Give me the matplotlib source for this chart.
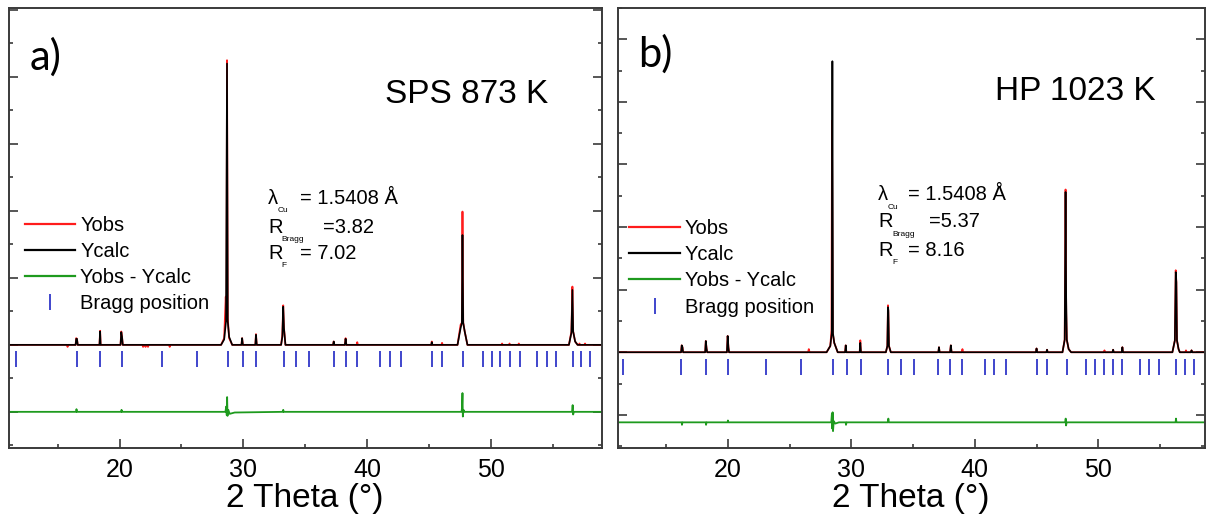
import matplotlib
matplotlib.use("Agg")
import matplotlib.pyplot as plt
from matplotlib.ticker import MultipleLocator

plt.rcParams["font.family"] = ["Liberation Sans", "DejaVu Sans"]

# ---- data (2theta in deg, intensity in major-tick units) ----
# panel a) SPS 873 K
tth_calc_a = [11.07, 16.45, 16.50, 16.56, 16.62, 18.38, 18.43, 18.47, 20.08, 20.14, 20.20, 20.26,
              28.20, 28.45, 28.60, 28.68, 28.74, 28.85, 29.10, 29.85, 29.90, 29.96, 30.97, 31.02, 31.08,
              33.05, 33.15, 33.22, 33.28, 33.40, 37.25, 37.30, 37.35, 38.20, 38.26, 38.32,
              45.18, 45.22, 45.27, 47.30, 47.55, 47.65, 47.70, 47.76, 47.88, 48.10,
              56.30, 56.50, 56.58, 56.64, 56.80, 57.00, 58.93]
ycalc_a = [0, 0, 0.09, 0.09, 0, 0, 0.20, 0, 0, 0.19, 0.12, 0,
           0, 0.08, 0.35, 4.20, 0.35, 0.12, 0, 0, 0.10, 0, 0, 0.15, 0,
           0, 0.12, 0.57, 0.25, 0, 0, 0.05, 0, 0, 0.09, 0,
           0, 0.04, 0, 0, 0.25, 0.33, 1.64, 0.33, 0.20, 0,
           0, 0.18, 0.82, 0.20, 0.05, 0, 0]
tth_obs_a = [11.07, 15.75, 15.80, 15.85, 16.45, 16.50, 16.56, 16.62, 18.38, 18.43, 18.47,
             20.08, 20.14, 20.20, 20.26, 21.85, 21.90, 22.00, 22.10, 22.20, 22.30, 22.35,
             24.00, 24.05, 24.10, 28.20, 28.45, 28.58, 28.64, 28.68, 28.74, 28.85, 29.10,
             29.85, 29.90, 29.96, 30.97, 31.02, 31.08, 33.05, 33.15, 33.22, 33.28, 33.40,
             37.25, 37.30, 37.35, 38.20, 38.26, 38.32, 39.15, 39.20, 39.25, 45.18, 45.22, 45.27,
             46.00, 46.05, 46.10, 47.30, 47.55, 47.65, 47.70, 47.76, 47.88, 48.10,
             50.85, 50.90, 50.95, 51.45, 51.50, 51.55, 52.20, 52.25, 52.30,
             56.30, 56.50, 56.58, 56.64, 56.80, 57.00, 57.10, 57.15, 57.20, 57.55, 57.60, 57.65, 58.93]
yobs_a = [0, 0, -0.03, 0, 0, 0.10, 0.09, 0, 0, 0.21, 0,
          0, 0.20, 0.12, 0, 0, -0.03, 0, -0.03, 0, -0.03, 0,
          0, -0.03, 0, 0, 0.10, 0.72, 0.35, 4.25, 0.40, 0.10, 0,
          0, 0.10, 0, 0, 0.16, 0, 0, 0.15, 0.59, 0.25, 0,
          0, 0.05, 0, 0, 0.10, 0, 0, 0.04, 0, 0, 0.05, 0,
          0, 0.03, 0, 0, 0.30, 0.33, 1.99, 0.33, 0.20, 0,
          0, 0.02, 0, 0, 0.02, 0, 0, 0.02, 0,
          0, 0.20, 0.87, 0.20, 0.05, 0, 0, 0.02, 0, 0, 0.02, 0, 0]
tth_diff_a = [11.07, 16.50, 16.52, 16.56, 20.14, 20.16, 20.20, 28.55, 28.62, 28.66, 28.69, 28.72,
              28.78, 28.90, 29.30, 33.20, 33.22, 33.26, 47.62, 47.66, 47.70, 47.73, 47.78, 47.85,
              56.55, 56.60, 56.64, 56.70, 58.93]
ydiff_a = [-1.0, -1.0, -0.96, -1.0, -1.0, -0.97, -1.0, -1.0, -0.92, -1.05, -0.78, -1.06,
           -0.97, -1.03, -1.01, -1.0, -0.97, -1.0, -1.0, -0.95, -0.72, -1.07, -0.97, -1.0,
           -1.0, -0.90, -1.04, -1.0, -1.0]
bragg_a = [11.65, 16.56, 18.45, 20.18, 23.39, 26.24, 28.74, 29.98, 31.06, 33.25, 34.24, 35.32,
           37.30, 38.26, 39.19, 41.04, 41.82, 42.75, 45.22, 46.05, 47.78, 49.36, 50.07, 50.75,
           51.53, 52.36, 53.75, 54.49, 55.23, 56.59, 57.30, 57.99]

# panel b) HP 1023 K
tth_calc_b = [11.07, 16.22, 16.27, 16.33, 16.38, 18.17, 18.22, 18.28, 18.33, 19.93, 19.99, 20.05, 20.10,
              28.00, 28.30, 28.42, 28.47, 28.52, 28.62, 28.90, 29.50, 29.55, 29.60, 30.68, 30.73, 30.78,
              32.80, 32.92, 32.97, 33.00, 33.05, 33.20, 37.05, 37.10, 37.15, 38.00, 38.06, 38.12,
              44.95, 45.00, 45.05, 45.80, 45.85, 45.90, 47.10, 47.28, 47.35, 47.40, 47.45, 47.60, 47.80,
              51.15, 51.20, 51.25, 51.90, 51.95, 52.00, 56.00, 56.20, 56.27, 56.32, 56.37, 56.50, 56.60,
              57.50, 57.55, 57.60, 58.64]
ycalc_b = [0, 0, 0.11, 0.08, 0, 0, 0.18, 0.06, 0, 0, 0.26, 0.08, 0,
           0, 0.10, 0.30, 4.65, 0.30, 0.15, 0, 0, 0.11, 0, 0, 0.15, 0,
           0, 0.10, 0.72, 0.67, 0.10, 0, 0, 0.08, 0, 0, 0.11, 0,
           0, 0.06, 0, 0, 0.04, 0, 0, 0.20, 2.56, 0.86, 0.20, 0.05, 0,
           0, 0.04, 0, 0, 0.08, 0, 0, 0.19, 1.28, 1.12, 0.19, 0.05, 0,
           0, 0.03, 0, 0]
tth_obs_b = [11.07, 16.22, 16.27, 16.33, 16.38, 18.17, 18.22, 18.28, 18.33, 19.93, 19.99, 20.05, 20.10,
             26.50, 26.56, 26.62, 28.00, 28.30, 28.40, 28.44, 28.50, 28.62, 28.90,
             29.50, 29.55, 29.60, 30.68, 30.73, 30.78, 32.80, 32.92, 32.97, 33.00, 33.05, 33.20,
             37.05, 37.10, 37.15, 38.00, 38.06, 38.12, 38.95, 39.00, 39.05,
             44.95, 45.00, 45.05, 45.80, 45.85, 45.90, 47.10, 47.28, 47.35, 47.40, 47.45, 47.60, 47.80,
             50.45, 50.50, 50.55, 51.15, 51.20, 51.25, 51.90, 51.95, 52.00,
             56.00, 56.20, 56.27, 56.32, 56.37, 56.50, 56.60, 57.05, 57.10, 57.15, 57.50, 57.55, 57.60, 58.64]
yobs_b = [0, 0, 0.11, 0.08, 0, 0, 0.18, 0.06, 0, 0, 0.26, 0.08, 0,
          0, 0.05, 0, 0, 0.10, 0.35, 3.70, 0.30, 0.15, 0,
          0, 0.11, 0, 0, 0.19, 0, 0, 0.10, 0.75, 0.64, 0.10, 0,
          0, 0.08, 0, 0, 0.11, 0, 0, 0.05, 0,
          0, 0.06, 0, 0, 0.04, 0, 0, 0.20, 2.60, 0.64, 0.20, 0.05, 0,
          0, 0.03, 0, 0, 0.04, 0, 0, 0.08, 0,
          0, 0.19, 1.31, 1.12, 0.19, 0.05, 0, 0, 0.03, 0, 0, 0.03, 0, 0]
tth_diff_b = [11.07, 16.27, 16.29, 16.33, 18.22, 18.24, 18.28, 19.99, 20.01, 20.05,
              28.38, 28.43, 28.46, 28.49, 28.52, 28.58, 28.70, 29.00, 29.55, 29.57, 29.62,
              32.97, 33.00, 33.04, 47.33, 47.36, 47.39, 47.44, 56.26, 56.29, 56.33, 58.64]
ydiff_b = [-1.12, -1.12, -1.16, -1.12, -1.12, -1.16, -1.12, -1.12, -1.09, -1.12,
           -1.12, -0.98, -1.22, -0.96, -1.26, -1.10, -1.14, -1.12, -1.12, -1.16, -1.12,
           -1.12, -1.06, -1.12, -1.12, -1.06, -1.17, -1.12, -1.12, -1.06, -1.12, -1.12]
bragg_b = [11.51, 16.23, 18.24, 19.98, 23.13, 25.96, 28.49, 29.64, 30.79, 32.96, 34.02, 35.10,
           37.05, 38.01, 38.97, 40.80, 41.57, 42.56, 45.05, 45.88, 47.43, 48.98, 49.73, 50.47,
           51.22, 51.95, 53.38, 54.12, 54.90, 56.29, 57.00, 57.75]

panel_labels = ["a)", "b)"]
samples = ["SPS 873 K", "HP 1023 K"]
r_bragg = ["3.82", "5.37"]
r_f = ["7.02", "8.16"]
wavelength = "1.5408"

RED = "#ff1c1c"
GREEN = "#1e9a1e"
BLUE = "#3f45cc"
SPINE = "#3a3a3a"

W, H = 1206, 517
fig = plt.figure(figsize=(W / 100, H / 100), dpi=100)

panels = [
    dict(rect=[9 / W, 69 / H, 592.5 / W, 440 / H], xlim=(11.07, 58.93), ylim=(-1.54, 5.03),
         tc=tth_calc_a, yc=ycalc_a, to=tth_obs_a, yo=yobs_a, td=tth_diff_a, yd=ydiff_a,
         bragg=bragg_a, bragg_y=-0.21, label_y=0.888,
         leg_anchor=(0.02, 0.537), sample_xy=(0.773, 0.803), txt_x=(0.437, 0.491, 0.530),
         txt_y=(0.568, 0.502, 0.443)),
    dict(rect=[617.5 / W, 69 / H, 587.5 / W, 440 / H], xlim=(11.07, 58.64), ylim=(-1.53, 5.50),
         tc=tth_calc_b, yc=ycalc_b, to=tth_obs_b, yo=yobs_b, td=tth_diff_b, yd=ydiff_b,
         bragg=bragg_b, bragg_y=-0.23, label_y=0.895,
         leg_anchor=(0.0135, 0.530), sample_xy=(0.78, 0.81), txt_x=(0.444, 0.494, 0.530),
         txt_y=(0.575, 0.514, 0.450)),
]

for i, p in enumerate(panels):
    ax = fig.add_axes(p["rect"])
    ax.plot(p["to"], p["yo"], color=RED, lw=1.3, label="Yobs")
    ax.plot(p["tc"], p["yc"], color="black", lw=1.2, label="Ycalc")
    ax.plot(p["td"], p["yd"], color=GREEN, lw=1.3, label="Yobs - Ycalc")
    ax.plot(p["bragg"], [p["bragg_y"]] * len(p["bragg"]), ls="none", marker="|",
            ms=12, mew=1.4, color=BLUE, label="Bragg position")

    ax.set_xlim(*p["xlim"])
    ax.set_ylim(*p["ylim"])
    ax.xaxis.set_major_locator(MultipleLocator(10))
    ax.xaxis.set_minor_locator(MultipleLocator(5))
    ax.yaxis.set_major_locator(MultipleLocator(1))
    ax.yaxis.set_minor_locator(MultipleLocator(0.5))
    ax.tick_params(which="both", direction="in", left=True, right=True, top=False,
                   labelleft=False, color=SPINE, width=1.2)
    ax.tick_params(which="major", length=6.5)
    ax.tick_params(which="minor", length=3)
    ax.tick_params(axis="x", labelsize=18, pad=7)
    for s in ax.spines.values():
        s.set_color(SPINE)
        s.set_linewidth(1.4)
    ax.set_xlabel("2 Theta (°)", fontsize=24, labelpad=1)

    leg = ax.legend(loc="upper left", bbox_to_anchor=p["leg_anchor"], frameon=False,
                    fontsize=14.5, handlelength=2.5, handletextpad=0.25, labelspacing=0.36,
                    borderaxespad=0, borderpad=0.2)
    for h in leg.legend_handles:
        h.set_linewidth(1.6)

    ax.text(0.035, p["label_y"], panel_labels[i], transform=ax.transAxes, fontsize=30,
            family=["Lato", "DejaVu Sans"], ha="left", va="center")
    ax.text(p["sample_xy"][0], p["sample_xy"][1], samples[i], transform=ax.transAxes,
            fontsize=24, ha="center", va="center")

    x0, x1, x2 = p["txt_x"]
    y0, y1, y2 = p["txt_y"]
    fs, fss = 14.5, 6
    ax.text(x0, y0, "λ", transform=ax.transAxes, fontsize=fs, va="center")
    ax.annotate("Cu", (x0, y0), xycoords="axes fraction", xytext=(7, -9),
                textcoords="offset points", fontsize=fss, va="center")
    ax.text(x1, y0, "= " + wavelength + " Å", transform=ax.transAxes, fontsize=fs, va="center")
    ax.text(x0, y1, "R", transform=ax.transAxes, fontsize=fs, va="center")
    ax.annotate("Bragg", (x0, y1), xycoords="axes fraction", xytext=(10, -9),
                textcoords="offset points", fontsize=fss, va="center")
    ax.text(x2, y1, "=" + r_bragg[i], transform=ax.transAxes, fontsize=fs, va="center")
    ax.text(x0, y2, "R", transform=ax.transAxes, fontsize=fs, va="center")
    ax.annotate("F", (x0, y2), xycoords="axes fraction", xytext=(10, -9),
                textcoords="offset points", fontsize=fss, va="center")
    ax.text(x1, y2, "= " + r_f[i], transform=ax.transAxes, fontsize=fs, va="center")

fig.savefig("out.png", dpi=100)
